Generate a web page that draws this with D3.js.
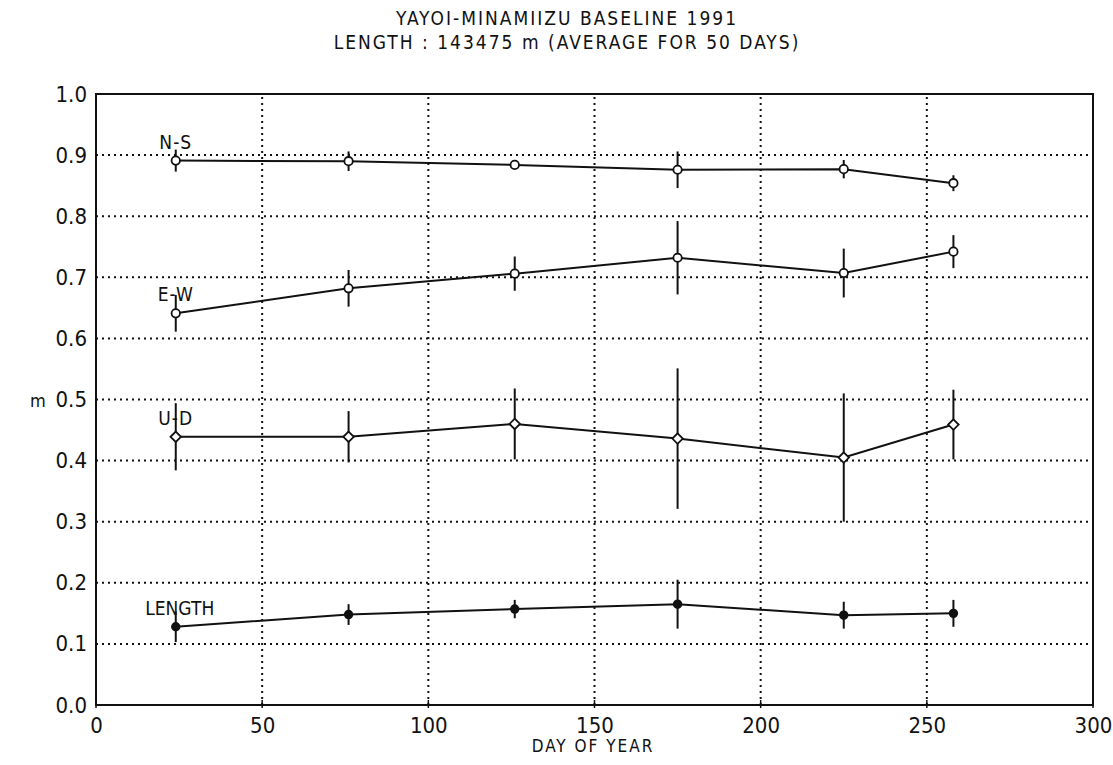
<!DOCTYPE html>
<html>
<head>
<meta charset="utf-8">
<script src="https://cdn.jsdelivr.net/npm/d3@7"></script>
<style>
  body { margin: 0; background: #fff; }
  svg text { font-family: "DejaVu Sans Condensed", "DejaVu Sans", sans-serif; fill: #111; }
</style>
</head>
<body>
<div class="chart"></div>
<script>
var days = [24, 76, 126, 175, 225, 258];

var nsValues = [0.891, 0.890, 0.884, 0.876, 0.877, 0.854];
var nsErrors = [0.018, 0.016, 0.006, 0.030, 0.015, 0.013];

var ewValues = [0.641, 0.682, 0.706, 0.732, 0.707, 0.742];
var ewErrors = [0.030, 0.030, 0.028, 0.060, 0.040, 0.027];

var udValues = [0.439, 0.439, 0.460, 0.436, 0.405, 0.459];
var udErrors = [0.055, 0.042, 0.058, 0.115, 0.105, 0.057];

var lenValues = [0.128, 0.148, 0.157, 0.165, 0.147, 0.150];
var lenErrors = [0.025, 0.017, 0.015, 0.040, 0.022, 0.022];

var xTicks = [0, 50, 100, 150, 200, 250, 300];
var yTicks = [0.0, 0.1, 0.2, 0.3, 0.4, 0.5, 0.6, 0.7, 0.8, 0.9, 1.0];

var titleLines = ["YAYOI-MINAMIIZU BASELINE 1991", "LENGTH : 143475 m (AVERAGE FOR 50 DAYS)"];

var series = [
  {name: "N-S", values: nsValues, errors: nsErrors, marker: "circle"},
  {name: "E-W", values: ewValues, errors: ewErrors, marker: "circle"},
  {name: "U-D", values: udValues, errors: udErrors, marker: "diamond"},
  {name: "LENGTH", values: lenValues, errors: lenErrors, marker: "dot"}
];

var width = 1113, height = 765;

var x = d3.scaleLinear().domain([0, 300]).range([96, 1093]);
var y = d3.scaleLinear().domain([0, 1]).range([705, 94]);

var svg = d3.select(".chart").append("svg")
  .attr("width", width)
  .attr("height", height);

// title
svg.selectAll(".title")
  .data(titleLines)
  .enter().append("text")
    .attr("x", 567)
    .attr("y", function(d, i) { return 25 + i * 24; })
    .attr("text-anchor", "middle")
    .style("font-size", "19px")
    .style("letter-spacing", "2px")
    .text(function(d) { return d; });

// grid
svg.append("g").selectAll("line")
  .data(xTicks.slice(1, -1))
  .enter().append("line")
    .attr("x1", function(d) { return x(d); })
    .attr("x2", function(d) { return x(d); })
    .attr("y1", y(0))
    .attr("y2", y(1))
    .attr("stroke", "#111")
    .attr("stroke-width", 2)
    .attr("stroke-dasharray", "2,4");

svg.append("g").selectAll("line")
  .data(yTicks.slice(1, -1))
  .enter().append("line")
    .attr("x1", x(0))
    .attr("x2", x(300))
    .attr("y1", function(d) { return y(d); })
    .attr("y2", function(d) { return y(d); })
    .attr("stroke", "#111")
    .attr("stroke-width", 2)
    .attr("stroke-dasharray", "2,4");

// axes
var xAxis = d3.axisBottom(x).tickValues(xTicks).tickSize(0).tickPadding(12)
  .tickFormat(d3.format("d"));
var yAxis = d3.axisLeft(y).tickValues(yTicks).tickSize(0).tickPadding(9)
  .tickFormat(d3.format(".1f"));

var gX = svg.append("g")
  .attr("transform", "translate(0," + y(0) + ")")
  .call(xAxis);
var gY = svg.append("g")
  .attr("transform", "translate(" + x(0) + ",0)")
  .call(yAxis);

[gX, gY].forEach(function(g) {
  g.select(".domain").remove();
  g.selectAll("text").style("font-size", "22px").attr("fill", "#111");
});

// frame
svg.append("rect")
  .attr("x", x(0))
  .attr("y", y(1))
  .attr("width", x(300) - x(0))
  .attr("height", y(0) - y(1))
  .attr("fill", "none")
  .attr("stroke", "#111")
  .attr("stroke-width", 2);

// small tick marks on bottom
svg.append("g").selectAll("line")
  .data(xTicks)
  .enter().append("line")
    .attr("x1", function(d) { return x(d); })
    .attr("x2", function(d) { return x(d); })
    .attr("y1", y(0) - 5)
    .attr("y2", y(0) + 3)
    .attr("stroke", "#111")
    .attr("stroke-width", 1.5);

svg.append("text")
  .attr("x", 593)
  .attr("y", 752)
  .attr("text-anchor", "middle")
  .style("font-size", "17px")
  .style("letter-spacing", "2px")
  .text("DAY OF YEAR");

svg.append("text")
  .attr("x", 38)
  .attr("y", y(0.5) + 7)
  .attr("text-anchor", "middle")
  .style("font-size", "18px")
  .text("m");

var line = d3.line()
  .x(function(d) { return x(d.day); })
  .y(function(d) { return y(d.v); });

series.forEach(function(s) {
  var pts = days.map(function(d, i) { return {day: d, v: s.values[i], e: s.errors[i]}; });
  var g = svg.append("g");

  g.append("path")
    .attr("d", line(pts))
    .attr("fill", "none")
    .attr("stroke", "#111")
    .attr("stroke-width", 2);

  g.selectAll(".err")
    .data(pts)
    .enter().append("line")
      .attr("x1", function(d) { return x(d.day); })
      .attr("x2", function(d) { return x(d.day); })
      .attr("y1", function(d) { return y(d.v + d.e); })
      .attr("y2", function(d) { return y(d.v - d.e); })
      .attr("stroke", "#111")
      .attr("stroke-width", 2);

  if (s.marker == "diamond") {
    g.selectAll(".mk")
      .data(pts)
      .enter().append("path")
        .attr("d", d3.symbol().type(d3.symbolDiamond2).size(70))
        .attr("transform", function(d) { return "translate(" + x(d.day) + "," + y(d.v) + ")"; })
        .attr("fill", "#fff")
        .attr("stroke", "#111")
        .attr("stroke-width", 1.8);
  } else {
    g.selectAll(".mk")
      .data(pts)
      .enter().append("circle")
        .attr("cx", function(d) { return x(d.day); })
        .attr("cy", function(d) { return y(d.v); })
        .attr("r", s.marker == "dot" ? 3.8 : 4.2)
        .attr("fill", s.marker == "dot" ? "#111" : "#fff")
        .attr("stroke", "#111")
        .attr("stroke-width", 1.8);
  }

  g.append("text")
    .attr("x", x(days[0]) + (s.name == "LENGTH" ? 4 : 0))
    .attr("y", y(s.values[0]) - 12)
    .attr("text-anchor", "middle")
    .style("font-size", "19px")
    .style("letter-spacing", s.name == "LENGTH" ? "0px" : "1px")
    .text(s.name);
});
</script>
</body>
</html>
